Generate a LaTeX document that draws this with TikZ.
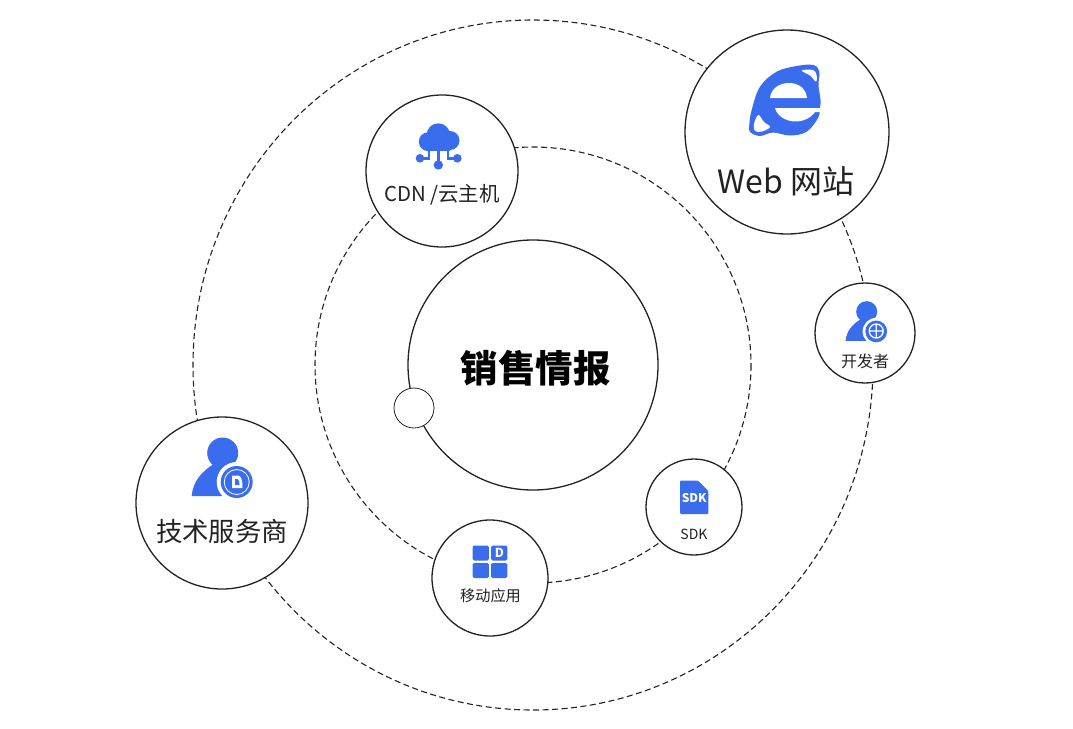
\documentclass[tikz,border=0pt]{standalone}
\usepackage{fontspec}
\setmainfont{Noto Sans CJK SC}
\usetikzlibrary{calc,positioning}
\definecolor{blue1}{RGB}{58,108,238}
\definecolor{ink1}{RGB}{34,34,34}
\newcommand{\fs}[1]{\fontsize{#1}{#1}\selectfont}
\tikzset{
  orbit/.style={draw=ink1, line width=1.1pt, dash pattern=on 6pt off 3.5pt},
  disc/.style={circle, draw=ink1, line width=1.3pt, fill=white, inner sep=0pt},
  lbl/.style={text=ink1, inner sep=0pt, anchor=center},
  pics/usershape/.style={code={
    \fill[blue1] (0,0) circle (15.5);
    \fill[blue1] (-31,43) .. controls (-30,28) and (-20,18) .. (-9,11) -- (10,11) -- (20,43) -- cycle;
    \fill[white] (14,29) circle (20);
    \fill[blue1] (14,29) circle (16);
  }}
}
\begin{document}
\begin{tikzpicture}[x=1pt,y=-1pt]
\useasboundingbox (0,0) rectangle (1073,728);
\coordinate (c) at (533,365);
\draw[orbit] (c) ellipse (340 and 345);
\draw[orbit] (c) circle (218);
\node[disc, minimum size=250pt] (core) at (c) {};
\node[disc, minimum size=40pt, line width=.8pt] (knob) at (414,408) {};
\node[disc, minimum size=204pt] (web) at (787,132) {};
\node[disc, minimum size=152pt] (cdn) at (442,171) {};
\node[disc, minimum size=100pt] (dev) at (865,333) {};
\node[disc, minimum size=172pt] (tech) at (222,503) {};
\node[disc, minimum size=116pt] (app) at (490,578) {};
\node[disc, minimum size=96pt] (sdk) at (694,507) {};
% labels
\node[lbl, font=\fs{37.5}\bfseries, text=black] (coretxt) at (535.5,368) {销售情报};
\node[lbl, font=\fs{32}] (webtxt) at (786,181) {Web 网站};
\node[lbl, font=\fs{20.4}] (cdntxt) at (442,195) {CDN /云主机};
\node[lbl, font=\fs{16}] (devtxt) at (865,361) {开发者};
\node[lbl, font=\fs{26.4}] (techtxt) at (222,531) {技术服务商};
\node[lbl, font=\fs{15.2}] (apptxt) at (490.5,596) {移动应用};
\node[lbl, font=\fs{14}] (sdktxt) at (694,534) {SDK};
% web icon
\fill[blue1] plot[smooth cycle, tension=.6] coordinates {(749.3,125) (751.7,110) (760,86.7) (776.7,71.7) (796.7,66) (813.3,65) (819.3,71.7) (818.5,85) (820.5,100) (820,108) (818,118) (806.7,131.7) (790,135.5) (773,132.5) (760,136) (750,132)};
\fill[white] plot[smooth cycle, tension=.6] coordinates {(801.7,70.5) (813,70) (816.5,75) (816,81.5) (810,75.5)};
\fill[white] plot[smooth cycle, tension=.6] coordinates {(754,124) (758.3,115) (764,122) (770,127) (762,131.5) (755,131)};
\fill[white] (770,98) .. controls (771,88) and (780,83) .. (789,83) .. controls (798,83) and (806,88) .. (807,98) -- cycle;
\fill[white] (775,108) .. controls (779,123) and (804,127) .. (815,112) -- (826,112) -- (826,108) -- cycle;
% cdn icon
\fill[blue1] (438.3,135) circle (11.7);
\fill[blue1] (428.3,141.7) circle (9.5);
\fill[blue1] (450,140.5) circle (9.5);
\fill[blue1] (428,140) rectangle (450,151);
\draw[blue1, line width=2.8pt] (438.3,150) -- (438.3,165) (429,150) -- (429,158.3) -- (420,158.3) (448,150) -- (448,158.3) -- (457.3,158.3);
\fill[blue1] (438.3,165) circle (4.7);
\fill[blue1] (420,158.3) circle (4.3);
\fill[blue1] (457.3,158.3) circle (4.3);
% people icons
\pic at (222.7,453) {usershape};
\draw[white, line width=.8pt] (236.7,482) circle (12.5);
\fill[white] (232,475.5) -- (238,475.5) .. controls (241,476) and (242.5,479) .. (242.5,488) -- (232,488) -- cycle;
\fill[blue1] (235,479) -- (237.5,479) .. controls (239,479.5) and (239.5,482) .. (239.5,485) -- (235,485) -- cycle;
\pic[scale=.68] at (866.7,311.7) {usershape};
\draw[white, line width=1.3pt] (876.2,331) circle (7) (876.2,324) -- (876.2,338) (869.2,331) -- (883.2,331);
% app icon
\fill[blue1, rounded corners=1.5pt] (472.7,545.5) rectangle (488.8,560.5);
\fill[blue1, rounded corners=1.5pt] (491.2,545.5) rectangle (507.3,560.5);
\fill[blue1, rounded corners=1.5pt] (472.7,563) rectangle (488.8,578);
\fill[blue1, rounded corners=1.5pt] (491.2,563) rectangle (507.3,578);
\node[inner sep=0pt, text=white, font=\fs{12.5}\bfseries] (appmark) at (499.3,553) {D};
% sdk icon
\fill[blue1, rounded corners=1pt] (680,480.7) -- (698,480.7) -- (708.3,491) -- (708.3,514) -- (680,514) -- cycle;
\node[inner sep=0pt, text=white, font=\fs{12}\bfseries] (sdkmark) at (694.2,498.5) {SDK};
\end{tikzpicture}
\end{document}
